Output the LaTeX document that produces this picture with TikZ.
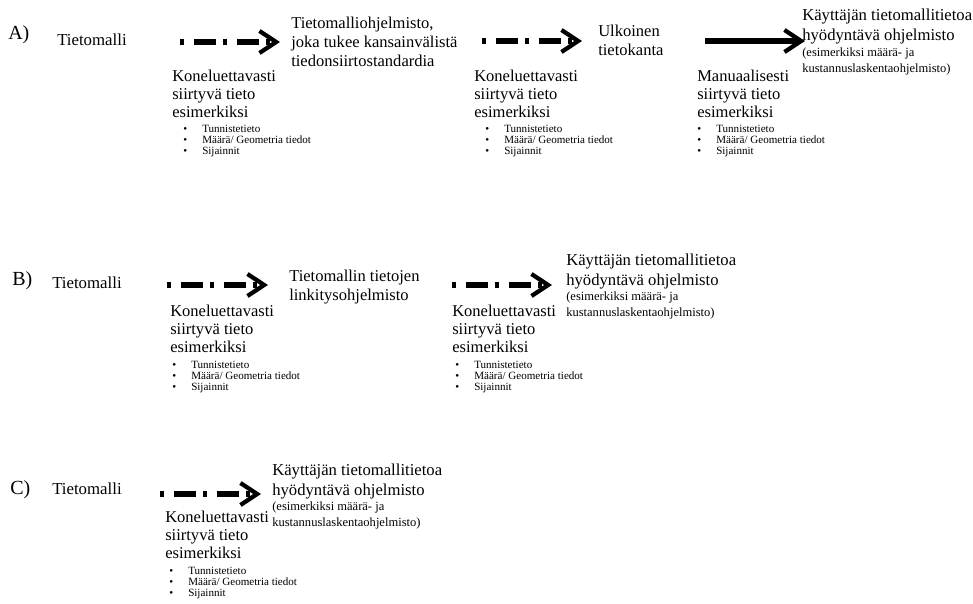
\documentclass[tikz,border=0pt]{standalone}
\usepackage{fontspec}
\setmainfont{Liberation Serif}
\usetikzlibrary{arrows.meta}
\newcommand{\bl}[1]{\makebox[14.25pt][l]{•}#1}
\tikzset{
  rowlabel/.style={anchor=west, inner sep=0pt, font=\fontsize{15}{18}\selectfont},
  srcnode/.style={anchor=west, inner sep=0pt, font=\fontsize{12.6}{15}\selectfont},
  tgtnode/.style={anchor=north west, inner sep=0pt, align=left, font=\fontsize{12.4}{14.25}\selectfont},
  usernode/.style={anchor=north west, inner sep=0pt, align=left, font=\fontsize{12.5}{15}\selectfont},
  parnode/.style={anchor=north west, inner sep=0pt, align=left, font=\fontsize{9.4}{11.6}\selectfont},
  notenode/.style={anchor=north west, inner sep=0pt, align=left, font=\fontsize{12.4}{13.5}\selectfont},
  listnode/.style={anchor=north west, inner sep=0pt, align=left, font=\fontsize{8.3}{8.25}\selectfont},
  chev/.style={-{Straight Barb[length=12.5pt,width=16.5pt,line width=3.2pt]}},
  mflow/.style={chev, line width=3.8pt, dash pattern=on 3pt off 7.5pt on 16.5pt off 5.25pt},
  hflow/.style={chev, line width=4pt},
}
\begin{document}
\begin{tikzpicture}[x=0.75pt,y=-0.75pt]
\useasboundingbox (0,0) rectangle (973,603);
% ---------------- Row A ----------------
\node[rowlabel] (labA) at (8,35) {A)};
\node[srcnode] (tmA) at (57,40) {Tietomalli};
\coordinate (a1s) at (180,42); \coordinate (a1e) at (280,42);
\draw[mflow] (a1s) -- (a1e);
\node[tgtnode] (swA) at (291,17) {Tietomalliohjelmisto,\\joka tukee kansainvälistä\\tiedonsiirtostandardia};
\node[notenode] (kA1) at (172,70) {Koneluettavasti\\siirtyvä tieto\\esimerkiksi};
\node[listnode] (lA1) at (183,125) {\bl{Tunnistetieto}\\\bl{Määrä/ Geometria tiedot}\\\bl{Sijainnit}};
\coordinate (a2s) at (482,41); \coordinate (a2e) at (582,41);
\draw[mflow] (a2s) -- (a2e);
\node[notenode] (kA2) at (474,70) {Koneluettavasti\\siirtyvä tieto\\esimerkiksi};
\node[listnode] (lA2) at (485,125) {\bl{Tunnistetieto}\\\bl{Määrä/ Geometria tiedot}\\\bl{Sijainnit}};
\node[tgtnode] (dbA) at (598,25) {Ulkoinen\\tietokanta};
\coordinate (a3s) at (705,41); \coordinate (a3e) at (805,41);
\draw[hflow] (a3s) -- (a3e);
\node[notenode] (mA3) at (697,70) {Manuaalisesti\\siirtyvä tieto\\esimerkiksi};
\node[listnode] (lA3) at (697,125) {\bl{Tunnistetieto}\\\bl{Määrä/ Geometria tiedot}\\\bl{Sijainnit}};
\node[usernode] (uA) at (802,9) {Käyttäjän tietomallitietoa\\hyödyntävä ohjelmisto};
\node[parnode] (pA) at (802,48) {(esimerkiksi määrä- ja\\kustannuslaskentaohjelmisto)};
% ---------------- Row B ----------------
\node[rowlabel] (labB) at (12,281) {B)};
\node[srcnode] (tmB) at (52,283) {Tietomalli};
\coordinate (b1s) at (167,285); \coordinate (b1e) at (268,285);
\draw[mflow] (b1s) -- (b1e);
\node[tgtnode] (lkB) at (289,270) {Tietomallin tietojen\\linkitysohjelmisto};
\node[notenode] (kB1) at (170,305) {Koneluettavasti\\siirtyvä tieto\\esimerkiksi};
\node[listnode] (lB1) at (172,361) {\bl{Tunnistetieto}\\\bl{Määrä/ Geometria tiedot}\\\bl{Sijainnit}};
\coordinate (b2s) at (452,285); \coordinate (b2e) at (552,285);
\draw[mflow] (b2s) -- (b2e);
\node[notenode] (kB2) at (452,305) {Koneluettavasti\\siirtyvä tieto\\esimerkiksi};
\node[listnode] (lB2) at (455,361) {\bl{Tunnistetieto}\\\bl{Määrä/ Geometria tiedot}\\\bl{Sijainnit}};
\node[usernode] (uB) at (566,254) {Käyttäjän tietomallitietoa\\hyödyntävä ohjelmisto};
\node[parnode] (pB) at (566,292) {(esimerkiksi määrä- ja\\kustannuslaskentaohjelmisto)};
% ---------------- Row C ----------------
\node[rowlabel] (labC) at (10,490) {C)};
\node[srcnode] (tmC) at (52,489) {Tietomalli};
\coordinate (c1s) at (160,494); \coordinate (c1e) at (261,494);
\draw[mflow] (c1s) -- (c1e);
\node[notenode] (kC1) at (165,511) {Koneluettavasti\\siirtyvä tieto\\esimerkiksi};
\node[listnode] (lC1) at (169,567) {\bl{Tunnistetieto}\\\bl{Määrä/ Geometria tiedot}\\\bl{Sijainnit}};
\node[usernode] (uC) at (272,464) {Käyttäjän tietomallitietoa\\hyödyntävä ohjelmisto};
\node[parnode] (pC) at (272,502) {(esimerkiksi määrä- ja\\kustannuslaskentaohjelmisto)};
\end{tikzpicture}
\end{document}
